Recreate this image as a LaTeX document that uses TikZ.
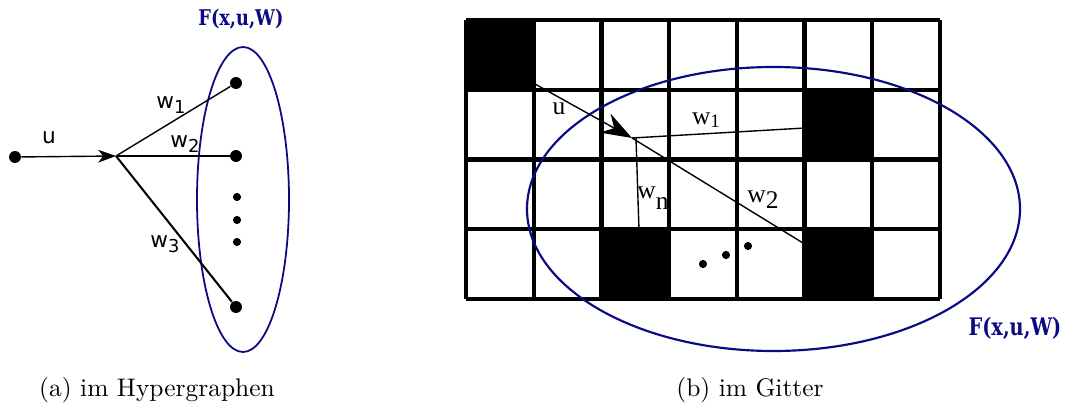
\documentclass[tikz,border=0pt]{standalone}
\usepackage{fontspec}
\usetikzlibrary{arrows.meta}
\newfontfamily\labsans{DejaVu Sans}
\newfontfamily\labserif{Liberation Serif}
\newfontfamily\fbold{DejaVu Serif}
\definecolor{navyb}{RGB}{10,10,130}
\newcommand{\subs}[1]{\raisebox{-0.45ex}{\fontsize{7}{7}\selectfont #1}}
\begin{document}
\begin{tikzpicture}[x=0.393pt,y=-0.393pt,
  bigdot/.style={circle,fill=black,inner sep=0pt,minimum size=4.7pt},
  smalldot/.style={circle,fill=black,inner sep=0pt,minimum size=3.2pt},
  conn/.style={line width=0.55pt},
  gridline/.style={line width=1.7pt},
  blueell/.style={draw=navyb,line width=0.7pt},
  lab/.style={inner sep=0pt,font=\labsans\fontsize{8.5}{9}\selectfont},
  labb/.style={inner sep=0pt,font=\labserif\fontsize{10}{11}\selectfont},
  flab/.style={inner sep=0pt,text=navyb,font=\fbold\bfseries\fontsize{8.5}{9}\selectfont},
  captext/.style={inner sep=0pt,font=\normalsize}]
\useasboundingbox (0,0) rectangle (1065,410);
% ---------------- panel (a)
\draw[blueell] (243,199.5) ellipse [x radius=46, y radius=152.5];
\node[bigdot] (s) at (15,157) {};
\coordinate (j) at (116,156);
\node[bigdot] (t1) at (236,83) {};
\node[bigdot] (t2) at (236,156) {};
\node[bigdot] (t3) at (236,307) {};
\node[smalldot] (d1) at (237,197) {};
\node[smalldot] (d2) at (237,220) {};
\node[smalldot] (d3) at (237,242) {};
\draw[conn,-{Stealth[length=7pt,width=5pt,inset=2pt]}] (s) -- (j);
\draw[conn] (j) -- (t1);
\draw[conn] (j) -- (t2);
\draw[line width=0.8pt] (j) -- (t3);
\node[lab] (lu) at (49,138) {u};
\node[lab] (lw1) at (171,105) {w\subs{1}};
\node[lab] (lw2) at (185,144) {w\subs{2}};
\node[lab] (lw3) at (165,244) {w\subs{3}};
\node[flab] (fa) at (241,19) {\scalebox{0.82}[1]{F(x,u,W)}};
\node[captext] (ca) at (157,390) {(a) im Hypergraphen};
% ---------------- panel (b)
\foreach \c/\r in {0/0,5/1,2/3,5/3}
  \fill (466+67.71*\c,20+69.75*\r) rectangle ++(67.71,69.75);
\foreach \i in {0,...,7}
  \draw[gridline] (466+67.71*\i,20) -- (466+67.71*\i,299);
\foreach \i in {0,...,4}
  \draw[gridline] (466,20+69.75*\i) -- (940,20+69.75*\i);
\draw[blueell,line width=0.85pt] (773.5,209) ellipse [x radius=246.5, y radius=142];
\coordinate (ua) at (535,84);
\coordinate (jb) at (632,138);
\coordinate (w1e) at (805,128);
\coordinate (w2e) at (803,243);
\coordinate (wne) at (639,230);
\draw[conn,-{Stealth[length=12pt,width=8.5pt,inset=4pt]}] (ua) -- (jb);
\draw[conn] (jb) -- (w1e);
\draw[conn] (jb) -- (w2e);
\draw[conn] (636,138) -- (wne);
\node[smalldot] (g1) at (703,264) {};
\node[smalldot] (g2) at (726,255) {};
\node[smalldot] (g3) at (748,246) {};
\node[labb] (bu) at (559,109) {u};
\node[labb] (bw1) at (706,120) {w\raisebox{-0.3ex}{\fontsize{7.5}{8}\selectfont 1}};
\node[labb] (bwn) at (653,198) {w\raisebox{-0.9ex}{n}};
\node[labb] (bw2) at (763,200) {w\raisebox{-0.5ex}{2}};
\node[flab,font=\fbold\bfseries\fontsize{9.5}{10}\selectfont] (fb) at (1015,328) {\scalebox{0.8}[1]{F(x,u,W)}};
\node[captext] (cb) at (750,390) {(b) im Gitter};
\end{tikzpicture}
\end{document}
